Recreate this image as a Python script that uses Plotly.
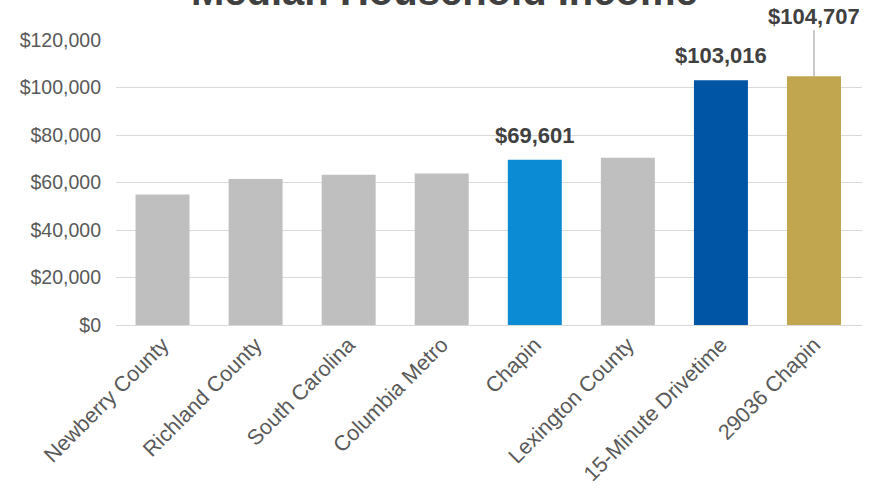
import plotly.graph_objects as go

# Median household income by area
categories = ["Newberry County", "Richland County", "South Carolina", "Columbia Metro",
              "Chapin", "Lexington County", "15-Minute Drivetime", "29036 Chapin"]
income = [55000, 61500, 63300, 63800, 69601, 70400, 103016, 104707]
bar_colors = ["#bfbfbf", "#bfbfbf", "#bfbfbf", "#bfbfbf",
              "#0a8bd3", "#bfbfbf", "#0055a5", "#c1a64f"]
labeled = ["Chapin", "15-Minute Drivetime", "29036 Chapin"]
tick_vals = [0, 20000, 40000, 60000, 80000, 100000, 120000]
tick_text = ["$0", "$20,000", "$40,000", "$60,000", "$80,000", "$100,000", "$120,000"]

font_family = "Liberation Sans, Arial, sans-serif"

fig = go.Figure(go.Bar(
    x=categories, y=income, marker_color=bar_colors, marker_line_width=0,
))

annotations = [dict(
    text="<b>Median Household Income</b>", xref="paper", yref="paper",
    x=0.44, y=1.086, xanchor="center", yanchor="bottom", showarrow=False,
    font=dict(size=40, color="#404040", family=font_family),
)]
for cat, val in zip(categories, income):
    if cat not in labeled:
        continue
    text = "<b>${:,}</b>".format(val)
    if cat == "29036 Chapin":
        annotations.append(dict(
            x=cat, y=val, text=text, showarrow=True, arrowhead=0, arrowwidth=1.2,
            arrowcolor="#a6a6a6", ax=0, ay=-60,
            font=dict(size=22, color="#404040", family=font_family),
        ))
    else:
        annotations.append(dict(
            x=cat, y=val, text=text, showarrow=False, yanchor="bottom", yshift=10,
            font=dict(size=22, color="#404040", family=font_family),
        ))

fig.update_layout(
    width=881, height=494,
    margin=dict(l=116, r=19, t=40, b=169),
    paper_bgcolor="white", plot_bgcolor="white",
    bargap=0.42,
    showlegend=False,
    annotations=annotations,
    font=dict(family=font_family, color="#595959"),
)
fig.update_yaxes(range=[0, 120000], tickvals=tick_vals, ticktext=tick_text,
                 showgrid=True, gridcolor="#d9d9d9", gridwidth=1,
                 zeroline=True, zerolinecolor="#d9d9d9", zerolinewidth=1,
                 tickfont=dict(size=19.5, color="#595959"), ticks="",
                 ticklabelstandoff=14, automargin=False)
fig.update_xaxes(tickangle=-45, tickfont=dict(size=21.5, color="#595959"),
                 showline=False, ticks="", ticklabelstandoff=2, automargin=False)

fig.write_html("out.html")
